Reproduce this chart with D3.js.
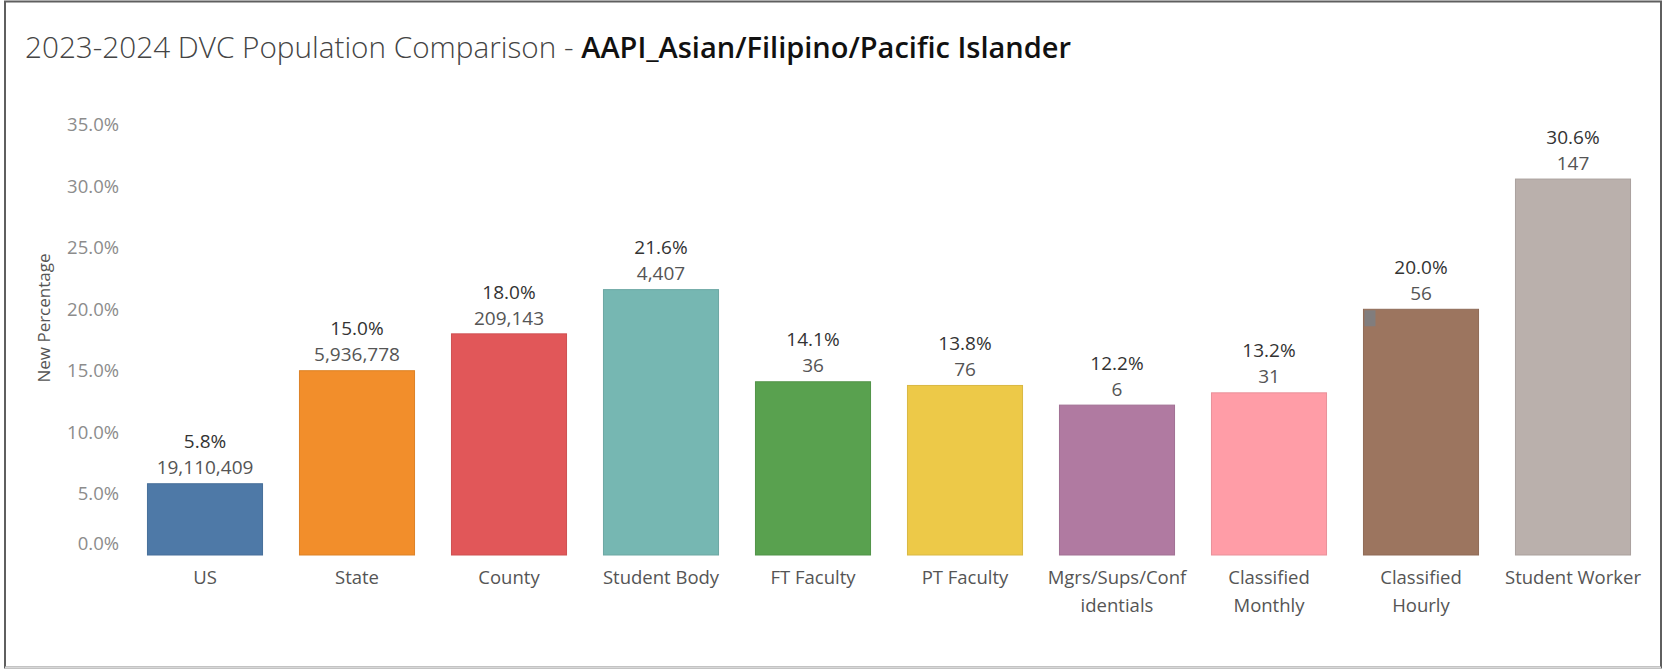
<!DOCTYPE html>
<html>
<head>
<meta charset="utf-8">
<script src="https://cdn.jsdelivr.net/npm/d3@7"></script>
<style>
  body { margin: 0; background: #fff; }
  svg { display: block; font-family: "Open Sans", sans-serif; }
</style>
</head>
<body>
<div id="chart"></div>
<script>
// Data
// ================================
var categories = ["US", "State", "County", "Student Body", "FT Faculty", "PT Faculty",
  "Mgrs/Sups/Confidentials", "Classified Monthly", "Classified Hourly", "Student Worker"];
var categoryLines = [["US"], ["State"], ["County"], ["Student Body"], ["FT Faculty"], ["PT Faculty"],
  ["Mgrs/Sups/Conf", "identials"], ["Classified", "Monthly"], ["Classified", "Hourly"], ["Student Worker"]];
var percents = [5.8, 15.0, 18.0, 21.6, 14.1, 13.8, 12.2, 13.2, 20.0, 30.6];
var counts = [19110409, 5936778, 209143, 4407, 36, 76, 6, 31, 56, 147];
var colors = ["#4e79a7", "#f28e2b", "#e15759", "#76b7b2", "#59a14f", "#edc948",
  "#b07aa1", "#ff9da7", "#9c755f", "#bab0ac"];
var yTicks = [0, 5, 10, 15, 20, 25, 30, 35];

var svgWidth = 1664;
var svgHeight = 670;

var svg = d3.select("#chart")
  .append("svg")
  .attr("width", svgWidth)
  .attr("height", svgHeight);

// frame
svg.append("rect")
  .attr("x", 5).attr("y", 1.5)
  .attr("width", 1656).attr("height", 666)
  .attr("fill", "none")
  .attr("stroke", "#5f5f5f")
  .attr("stroke-width", 2);
svg.append("line")
  .attr("x1", 5).attr("x2", 1661)
  .attr("y1", 667.5).attr("y2", 667.5)
  .attr("stroke", "#d8d8d8")
  .attr("stroke-width", 2);

// title
var title = svg.append("text")
  .attr("x", 25)
  .attr("y", 58);
title.append("tspan")
  .attr("fill", "#444")
  .attr("font-size", "29.7px")
  .attr("font-weight", 300)
  .text("2023-2024 DVC Population Comparison - ");
title.append("tspan")
  .attr("fill", "#111")
  .attr("font-size", "29px")
  .attr("font-weight", 600)
  .text("AAPI_Asian/Filipino/Pacific Islander");

// scales
var x = d3.scaleBand()
  .domain(categories)
  .range([129, 1649])
  .paddingInner(0.243)
  .paddingOuter(0.1215);

var y = d3.scaleLinear()
  .domain([0, 35])
  .range([555, 125]);

// y axis
var leftAxis = d3.axisLeft(y)
  .tickValues(yTicks)
  .tickFormat(d => d3.format(".1f")(d) + "%")
  .tickSize(0)
  .tickPadding(0);

var yAxisG = svg.append("g")
  .attr("transform", "translate(119,0)")
  .call(leftAxis);
yAxisG.select(".domain").remove();
yAxisG.selectAll("text")
  .attr("font-family", "Open Sans, sans-serif")
  .attr("font-size", "18.5px")
  .attr("fill", "#8c8c8c")
  .attr("dy", d => d === 0 ? "-0.32em" : "0.32em");

svg.append("text")
  .attr("transform", "translate(50,318) rotate(-90)")
  .attr("text-anchor", "middle")
  .attr("font-size", "17px")
  .attr("fill", "#555")
  .text("New Percentage");

// bars
var bars = svg.selectAll(".bar")
  .data(categories)
  .enter()
  .append("rect")
  .attr("class", "bar")
  .attr("x", d => x(d))
  .attr("width", x.bandwidth())
  .attr("y", (d, i) => y(percents[i]))
  .attr("height", (d, i) => y(0) - y(percents[i]))
  .attr("fill", (d, i) => colors[i])
  .attr("stroke", (d, i) => d3.color(colors[i]).darker(0.25))
  .attr("stroke-width", 1);

// small highlight mark at Classified Hourly bar top
var ch = categories.indexOf("Classified Hourly");
svg.append("rect")
  .attr("x", x(categories[ch]) + 1)
  .attr("y", y(percents[ch]) + 1)
  .attr("width", 11)
  .attr("height", 16)
  .attr("fill", "#7d7f82")
  .attr("opacity", 0.85);

// value labels
svg.selectAll(".pct-label")
  .data(categories)
  .enter()
  .append("text")
  .attr("class", "pct-label")
  .attr("x", d => x(d) + x.bandwidth() / 2)
  .attr("y", (d, i) => y(percents[i]) - 42)
  .attr("dy", "0.35em")
  .attr("text-anchor", "middle")
  .attr("font-size", "19px")
  .attr("font-weight", 500)
  .attr("fill", "#333")
  .text((d, i) => d3.format(".1f")(percents[i]) + "%");

svg.selectAll(".count-label")
  .data(categories)
  .enter()
  .append("text")
  .attr("class", "count-label")
  .attr("x", d => x(d) + x.bandwidth() / 2)
  .attr("y", (d, i) => y(percents[i]) - 16)
  .attr("dy", "0.35em")
  .attr("text-anchor", "middle")
  .attr("font-size", "19px")
  .attr("fill", "#555")
  .text((d, i) => d3.format(",")(counts[i]));

// category labels
var catG = svg.selectAll(".cat-label")
  .data(categories)
  .enter()
  .append("text")
  .attr("class", "cat-label")
  .attr("x", d => x(d) + x.bandwidth() / 2)
  .attr("y", 578)
  .attr("dy", "0.35em")
  .attr("text-anchor", "middle")
  .attr("font-size", "18.5px")
  .attr("fill", "#555");

catG.selectAll("tspan")
  .data((d, i) => categoryLines[i])
  .enter()
  .append("tspan")
  .attr("x", function() { return d3.select(this.parentNode).attr("x"); })
  .attr("dy", (d, j) => j === 0 ? "0.35em" : "28px")
  .text(d => d);
</script>
</body>
</html>
